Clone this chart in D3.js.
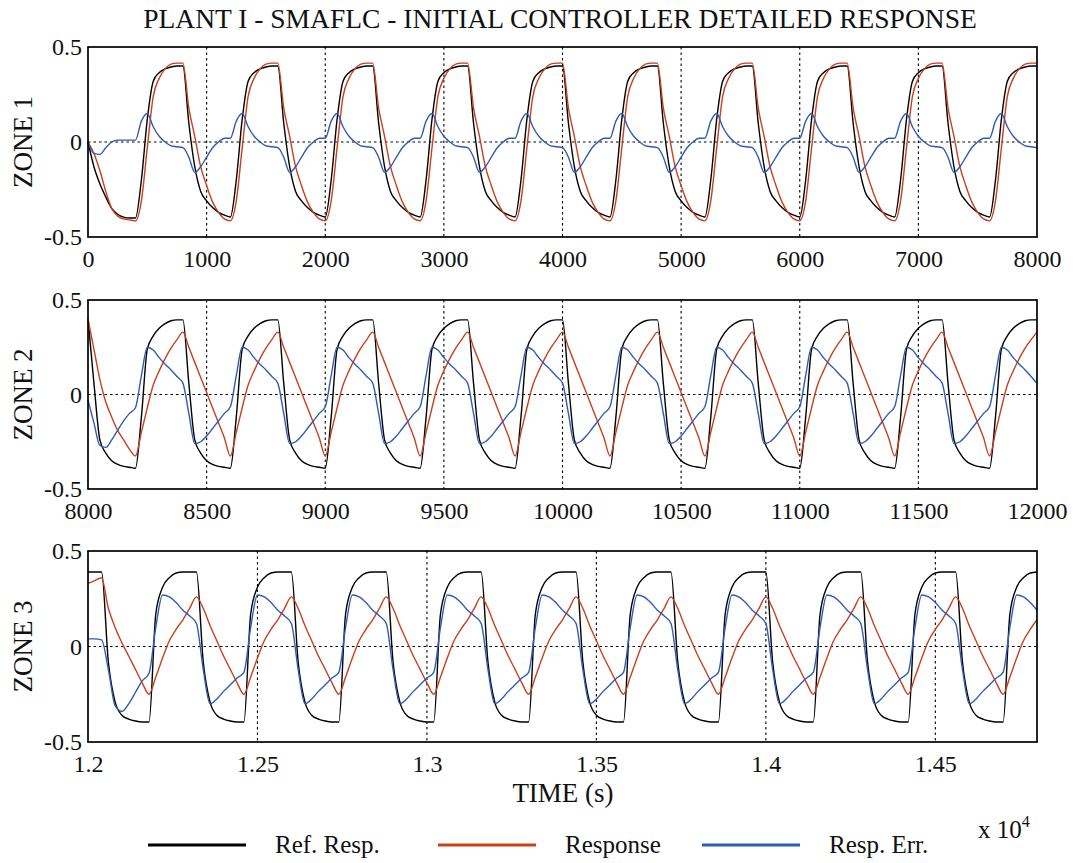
<!DOCTYPE html>
<html>
<head>
<meta charset="utf-8">
<script src="https://cdn.jsdelivr.net/npm/d3@7"></script>
<style>
  body { margin: 0; background: #fff; }
  svg { display: block; }
  svg text { font-family: "Liberation Serif", "Times New Roman", serif; }
</style>
</head>
<body>
<svg id="chart" width="1083" height="863"></svg>
<script>
// zone 1 : t = 0 .. 8000 s, one sample every 50 s
const z1Start = 0, z1End = 8000, z1Step = 50;
const z1Ticks = [0, 1000, 2000, 3000, 4000, 5000, 6000, 7000, 8000];
const z1Ref = [
  0.00,-0.13,-0.22,-0.29,-0.35,-0.38,-0.395,-0.40,-0.40,-0.20,0.12,0.32,0.365,0.385,0.395,0.40,
  0.40,0.10,-0.13,-0.26,-0.31,-0.345,-0.37,-0.385,-0.395,-0.20,0.12,0.32,0.365,0.385,0.395,0.40,
  0.40,0.10,-0.13,-0.26,-0.31,-0.345,-0.37,-0.385,-0.395,-0.20,0.12,0.32,0.365,0.385,0.395,0.40,
  0.40,0.10,-0.13,-0.26,-0.31,-0.345,-0.37,-0.385,-0.395,-0.20,0.12,0.32,0.365,0.385,0.395,0.40,
  0.40,0.10,-0.13,-0.26,-0.31,-0.345,-0.37,-0.385,-0.395,-0.20,0.12,0.32,0.365,0.385,0.395,0.40,
  0.40,0.10,-0.13,-0.26,-0.31,-0.345,-0.37,-0.385,-0.395,-0.20,0.12,0.32,0.365,0.385,0.395,0.40,
  0.40,0.10,-0.13,-0.26,-0.31,-0.345,-0.37,-0.385,-0.395,-0.20,0.12,0.32,0.365,0.385,0.395,0.40,
  0.40,0.10,-0.13,-0.26,-0.31,-0.345,-0.37,-0.385,-0.395,-0.20,0.12,0.32,0.365,0.385,0.395,0.40,
  0.40,0.10,-0.13,-0.26,-0.31,-0.345,-0.37,-0.385,-0.395,-0.20,0.12,0.32,0.365,0.385,0.395,0.40,
  0.40,0.10,-0.13,-0.26,-0.31,-0.345,-0.37,-0.385,-0.395,-0.20,0.12,0.32,0.365,0.385,0.395,0.40,
  0.40
];
const z1Resp = [
  0.00,-0.06,-0.15,-0.26,-0.35,-0.39,-0.405,-0.41,-0.415,-0.31,-0.03,0.24,0.335,0.385,0.41,0.415,
  0.415,0.18,0.03,-0.13,-0.23,-0.315,-0.37,-0.405,-0.415,-0.31,-0.03,0.24,0.335,0.385,0.41,0.415,
  0.415,0.18,0.03,-0.13,-0.23,-0.315,-0.37,-0.405,-0.415,-0.31,-0.03,0.24,0.335,0.385,0.41,0.415,
  0.415,0.18,0.03,-0.13,-0.23,-0.315,-0.37,-0.405,-0.415,-0.31,-0.03,0.24,0.335,0.385,0.41,0.415,
  0.415,0.18,0.03,-0.13,-0.23,-0.315,-0.37,-0.405,-0.415,-0.31,-0.03,0.24,0.335,0.385,0.41,0.415,
  0.415,0.18,0.03,-0.13,-0.23,-0.315,-0.37,-0.405,-0.415,-0.31,-0.03,0.24,0.335,0.385,0.41,0.415,
  0.415,0.18,0.03,-0.13,-0.23,-0.315,-0.37,-0.405,-0.415,-0.31,-0.03,0.24,0.335,0.385,0.41,0.415,
  0.415,0.18,0.03,-0.13,-0.23,-0.315,-0.37,-0.405,-0.415,-0.31,-0.03,0.24,0.335,0.385,0.41,0.415,
  0.415,0.18,0.03,-0.13,-0.23,-0.315,-0.37,-0.405,-0.415,-0.31,-0.03,0.24,0.335,0.385,0.41,0.415,
  0.415,0.18,0.03,-0.13,-0.23,-0.315,-0.37,-0.405,-0.415,-0.31,-0.03,0.24,0.335,0.385,0.41,0.415,
  0.415
];
const z1Err = [
  0.00,-0.06,-0.065,-0.03,0.00,0.01,0.01,0.01,0.01,0.11,0.15,0.08,0.03,0.00,-0.02,-0.025,
  -0.03,-0.08,-0.16,-0.13,-0.08,-0.03,0.00,0.02,0.02,0.11,0.15,0.08,0.03,0.00,-0.02,-0.025,
  -0.03,-0.08,-0.16,-0.13,-0.08,-0.03,0.00,0.02,0.02,0.11,0.15,0.08,0.03,0.00,-0.02,-0.025,
  -0.03,-0.08,-0.16,-0.13,-0.08,-0.03,0.00,0.02,0.02,0.11,0.15,0.08,0.03,0.00,-0.02,-0.025,
  -0.03,-0.08,-0.16,-0.13,-0.08,-0.03,0.00,0.02,0.02,0.11,0.15,0.08,0.03,0.00,-0.02,-0.025,
  -0.03,-0.08,-0.16,-0.13,-0.08,-0.03,0.00,0.02,0.02,0.11,0.15,0.08,0.03,0.00,-0.02,-0.025,
  -0.03,-0.08,-0.16,-0.13,-0.08,-0.03,0.00,0.02,0.02,0.11,0.15,0.08,0.03,0.00,-0.02,-0.025,
  -0.03,-0.08,-0.16,-0.13,-0.08,-0.03,0.00,0.02,0.02,0.11,0.15,0.08,0.03,0.00,-0.02,-0.025,
  -0.03,-0.08,-0.16,-0.13,-0.08,-0.03,0.00,0.02,0.02,0.11,0.15,0.08,0.03,0.00,-0.02,-0.025,
  -0.03,-0.08,-0.16,-0.13,-0.08,-0.03,0.00,0.02,0.02,0.11,0.15,0.08,0.03,0.00,-0.02,-0.025,
  -0.03
];

// zone 2 : t = 8000 .. 12000 s, one sample every 25 s
const z2Start = 8000, z2End = 12000, z2Step = 25;
const z2Ticks = [8000, 8500, 9000, 9500, 10000, 10500, 11000, 11500, 12000];
const z2Ref = [
  0.40,0.06,-0.24,-0.31,-0.35,-0.37,-0.38,-0.385,-0.39,-0.12,0.24,0.31,0.35,0.375,0.39,0.395,
  0.395,0.06,-0.24,-0.31,-0.35,-0.37,-0.38,-0.385,-0.39,-0.12,0.24,0.31,0.35,0.375,0.39,0.395,
  0.395,0.06,-0.24,-0.31,-0.35,-0.37,-0.38,-0.385,-0.39,-0.12,0.24,0.31,0.35,0.375,0.39,0.395,
  0.395,0.06,-0.24,-0.31,-0.35,-0.37,-0.38,-0.385,-0.39,-0.12,0.24,0.31,0.35,0.375,0.39,0.395,
  0.395,0.06,-0.24,-0.31,-0.35,-0.37,-0.38,-0.385,-0.39,-0.12,0.24,0.31,0.35,0.375,0.39,0.395,
  0.395,0.06,-0.24,-0.31,-0.35,-0.37,-0.38,-0.385,-0.39,-0.12,0.24,0.31,0.35,0.375,0.39,0.395,
  0.395,0.06,-0.24,-0.31,-0.35,-0.37,-0.38,-0.385,-0.39,-0.12,0.24,0.31,0.35,0.375,0.39,0.395,
  0.395,0.06,-0.24,-0.31,-0.35,-0.37,-0.38,-0.385,-0.39,-0.12,0.24,0.31,0.35,0.375,0.39,0.395,
  0.395,0.06,-0.24,-0.31,-0.35,-0.37,-0.38,-0.385,-0.39,-0.12,0.24,0.31,0.35,0.375,0.39,0.395,
  0.395,0.06,-0.24,-0.31,-0.35,-0.37,-0.38,-0.385,-0.39,-0.12,0.24,0.31,0.35,0.375,0.39,0.395,
  0.395
];
const z2Resp = [
  0.40,0.24,0.08,-0.04,-0.12,-0.19,-0.24,-0.29,-0.325,-0.20,-0.07,0.05,0.125,0.19,0.245,0.29,
  0.33,0.25,0.17,0.09,0.01,-0.07,-0.15,-0.23,-0.325,-0.20,-0.07,0.05,0.125,0.19,0.245,0.29,
  0.33,0.25,0.17,0.09,0.01,-0.07,-0.15,-0.23,-0.325,-0.20,-0.07,0.05,0.125,0.19,0.245,0.29,
  0.33,0.25,0.17,0.09,0.01,-0.07,-0.15,-0.23,-0.325,-0.20,-0.07,0.05,0.125,0.19,0.245,0.29,
  0.33,0.25,0.17,0.09,0.01,-0.07,-0.15,-0.23,-0.325,-0.20,-0.07,0.05,0.125,0.19,0.245,0.29,
  0.33,0.25,0.17,0.09,0.01,-0.07,-0.15,-0.23,-0.325,-0.20,-0.07,0.05,0.125,0.19,0.245,0.29,
  0.33,0.25,0.17,0.09,0.01,-0.07,-0.15,-0.23,-0.325,-0.20,-0.07,0.05,0.125,0.19,0.245,0.29,
  0.33,0.25,0.17,0.09,0.01,-0.07,-0.15,-0.23,-0.325,-0.20,-0.07,0.05,0.125,0.19,0.245,0.29,
  0.33,0.25,0.17,0.09,0.01,-0.07,-0.15,-0.23,-0.325,-0.20,-0.07,0.05,0.125,0.19,0.245,0.29,
  0.33,0.25,0.17,0.09,0.01,-0.07,-0.15,-0.23,-0.325,-0.20,-0.07,0.05,0.125,0.19,0.245,0.29,
  0.33
];
const z2Err = [
  -0.03,-0.15,-0.27,-0.28,-0.24,-0.19,-0.14,-0.10,-0.07,0.10,0.25,0.235,0.195,0.16,0.13,0.095,
  0.06,-0.10,-0.26,-0.25,-0.22,-0.18,-0.14,-0.10,-0.065,0.10,0.25,0.235,0.195,0.16,0.13,0.095,
  0.06,-0.10,-0.26,-0.25,-0.22,-0.18,-0.14,-0.10,-0.065,0.10,0.25,0.235,0.195,0.16,0.13,0.095,
  0.06,-0.10,-0.26,-0.25,-0.22,-0.18,-0.14,-0.10,-0.065,0.10,0.25,0.235,0.195,0.16,0.13,0.095,
  0.06,-0.10,-0.26,-0.25,-0.22,-0.18,-0.14,-0.10,-0.065,0.10,0.25,0.235,0.195,0.16,0.13,0.095,
  0.06,-0.10,-0.26,-0.25,-0.22,-0.18,-0.14,-0.10,-0.065,0.10,0.25,0.235,0.195,0.16,0.13,0.095,
  0.06,-0.10,-0.26,-0.25,-0.22,-0.18,-0.14,-0.10,-0.065,0.10,0.25,0.235,0.195,0.16,0.13,0.095,
  0.06,-0.10,-0.26,-0.25,-0.22,-0.18,-0.14,-0.10,-0.065,0.10,0.25,0.235,0.195,0.16,0.13,0.095,
  0.06,-0.10,-0.26,-0.25,-0.22,-0.18,-0.14,-0.10,-0.065,0.10,0.25,0.235,0.195,0.16,0.13,0.095,
  0.06,-0.10,-0.26,-0.25,-0.22,-0.18,-0.14,-0.10,-0.065,0.10,0.25,0.235,0.195,0.16,0.13,0.095,
  0.06
];

// zone 3 : t = 12000 .. 14800 s, one sample every 20 s
const z3Start = 12000, z3End = 14800, z3Step = 20;
const z3Ticks = [12000, 12500, 13000, 13500, 14000, 14500];
const z3Ref = [
  0.39,0.39,0.39,-0.08,-0.29,-0.36,-0.38,-0.39,-0.395,-0.395,0.17,0.31,0.36,0.385,
  0.39,0.39,0.39,-0.08,-0.29,-0.36,-0.38,-0.39,-0.395,-0.395,0.17,0.31,0.36,0.385,
  0.39,0.39,0.39,-0.08,-0.29,-0.36,-0.38,-0.39,-0.395,-0.395,0.17,0.31,0.36,0.385,
  0.39,0.39,0.39,-0.08,-0.29,-0.36,-0.38,-0.39,-0.395,-0.395,0.17,0.31,0.36,0.385,
  0.39,0.39,0.39,-0.08,-0.29,-0.36,-0.38,-0.39,-0.395,-0.395,0.17,0.31,0.36,0.385,
  0.39,0.39,0.39,-0.08,-0.29,-0.36,-0.38,-0.39,-0.395,-0.395,0.17,0.31,0.36,0.385,
  0.39,0.39,0.39,-0.08,-0.29,-0.36,-0.38,-0.39,-0.395,-0.395,0.17,0.31,0.36,0.385,
  0.39,0.39,0.39,-0.08,-0.29,-0.36,-0.38,-0.39,-0.395,-0.395,0.17,0.31,0.36,0.385,
  0.39,0.39,0.39,-0.08,-0.29,-0.36,-0.38,-0.39,-0.395,-0.395,0.17,0.31,0.36,0.385,
  0.39,0.39,0.39,-0.08,-0.29,-0.36,-0.38,-0.39,-0.395,-0.395,0.17,0.31,0.36,0.385,
  0.39
];
const z3Resp = [
  0.33,0.345,0.36,0.20,0.10,0.02,-0.05,-0.12,-0.19,-0.25,-0.16,-0.06,0.03,0.09,
  0.14,0.20,0.26,0.20,0.11,0.03,-0.05,-0.12,-0.19,-0.25,-0.16,-0.06,0.03,0.09,
  0.14,0.20,0.26,0.20,0.11,0.03,-0.05,-0.12,-0.19,-0.25,-0.16,-0.06,0.03,0.09,
  0.14,0.20,0.26,0.20,0.11,0.03,-0.05,-0.12,-0.19,-0.25,-0.16,-0.06,0.03,0.09,
  0.14,0.20,0.26,0.20,0.11,0.03,-0.05,-0.12,-0.19,-0.25,-0.16,-0.06,0.03,0.09,
  0.14,0.20,0.26,0.20,0.11,0.03,-0.05,-0.12,-0.19,-0.25,-0.16,-0.06,0.03,0.09,
  0.14,0.20,0.26,0.20,0.11,0.03,-0.05,-0.12,-0.19,-0.25,-0.16,-0.06,0.03,0.09,
  0.14,0.20,0.26,0.20,0.11,0.03,-0.05,-0.12,-0.19,-0.25,-0.16,-0.06,0.03,0.09,
  0.14,0.20,0.26,0.20,0.11,0.03,-0.05,-0.12,-0.19,-0.25,-0.16,-0.06,0.03,0.09,
  0.14,0.20,0.26,0.20,0.11,0.03,-0.05,-0.12,-0.19,-0.25,-0.16,-0.06,0.03,0.09,
  0.14
];
const z3Err = [
  0.04,0.04,0.035,-0.12,-0.31,-0.34,-0.30,-0.24,-0.18,-0.14,0.10,0.27,0.26,0.23,
  0.19,0.16,0.12,-0.12,-0.30,-0.275,-0.235,-0.20,-0.165,-0.135,0.10,0.27,0.26,0.23,
  0.19,0.16,0.12,-0.12,-0.30,-0.275,-0.235,-0.20,-0.165,-0.135,0.10,0.27,0.26,0.23,
  0.19,0.16,0.12,-0.12,-0.30,-0.275,-0.235,-0.20,-0.165,-0.135,0.10,0.27,0.26,0.23,
  0.19,0.16,0.12,-0.12,-0.30,-0.275,-0.235,-0.20,-0.165,-0.135,0.10,0.27,0.26,0.23,
  0.19,0.16,0.12,-0.12,-0.30,-0.275,-0.235,-0.20,-0.165,-0.135,0.10,0.27,0.26,0.23,
  0.19,0.16,0.12,-0.12,-0.30,-0.275,-0.235,-0.20,-0.165,-0.135,0.10,0.27,0.26,0.23,
  0.19,0.16,0.12,-0.12,-0.30,-0.275,-0.235,-0.20,-0.165,-0.135,0.10,0.27,0.26,0.23,
  0.19,0.16,0.12,-0.12,-0.30,-0.275,-0.235,-0.20,-0.165,-0.135,0.10,0.27,0.26,0.23,
  0.19,0.16,0.12,-0.12,-0.30,-0.275,-0.235,-0.20,-0.165,-0.135,0.10,0.27,0.26,0.23,
  0.19
];

const yTicks = [-0.5, 0, 0.5];
const seriesNames = ["Ref. Resp.", "Response", "Resp. Err."];
const seriesColors = ["#000000", "#c8401e", "#2f5cb3"];

const svg = d3.select("#chart");
svg.append("rect").attr("width", 1083).attr("height", 863).attr("fill", "#fff");

const left = 88, right = 1037;
const serif = "'Liberation Serif', 'Times New Roman', serif";

const zones = [
  {name: "ZONE 1", start: z1Start, end: z1End, step: z1Step, ticks: z1Ticks, fmt: d => String(d),
   series: [z1Ref, z1Resp, z1Err], top: 47, bottom: 237},
  {name: "ZONE 2", start: z2Start, end: z2End, step: z2Step, ticks: z2Ticks, fmt: d => String(d),
   series: [z2Ref, z2Resp, z2Err], top: 300, bottom: 489},
  {name: "ZONE 3", start: z3Start, end: z3End, step: z3Step, ticks: z3Ticks, fmt: d => String(d / 1e4),
   series: [z3Ref, z3Resp, z3Err], top: 551, bottom: 742}
];

zones.forEach(z => {
  const x = d3.scaleLinear().domain([z.start, z.end]).range([left, right]);
  const y = d3.scaleLinear().domain([-0.5, 0.5]).range([z.bottom, z.top]);
  const g = svg.append("g");

  // dotted grid at the inner ticks and at zero
  g.selectAll("line.vgrid")
    .data(z.ticks.filter(t => t > z.start && t < z.end))
    .join("line").attr("class", "vgrid")
    .attr("x1", d => x(d)).attr("x2", d => x(d))
    .attr("y1", z.top).attr("y2", z.bottom)
    .attr("stroke", "#000").attr("stroke-width", 1.1).attr("stroke-dasharray", "2.5,3");
  g.append("line")
    .attr("x1", left).attr("x2", right).attr("y1", y(0)).attr("y2", y(0))
    .attr("stroke", "#000").attr("stroke-width", 1.1).attr("stroke-dasharray", "2.5,3");

  // the three curves
  const line = d3.line()
    .x((d, i) => x(z.start + i * z.step))
    .y(d => y(d))
    .curve(d3.curveMonotoneX);
  z.series.forEach((s, k) => {
    g.append("path").datum(s)
      .attr("fill", "none")
      .attr("stroke", seriesColors[k])
      .attr("stroke-width", 1.4)
      .attr("stroke-linejoin", "round")
      .attr("d", line);
  });

  // frame
  g.append("rect")
    .attr("x", left).attr("y", z.top)
    .attr("width", right - left).attr("height", z.bottom - z.top)
    .attr("fill", "none").attr("stroke", "#000").attr("stroke-width", 1.7);

  // x axis
  const xa = d3.axisBottom(x).tickValues(z.ticks).tickFormat(z.fmt).tickSize(0).tickPadding(0);
  const xg = g.append("g").attr("transform", `translate(0,${z.bottom})`).call(xa);
  xg.attr("font-family", serif).attr("font-size", 24);
  xg.select(".domain").remove();
  xg.selectAll("text")
    .attr("y", 30).attr("dy", 0)
    .attr("font-family", serif)
    .style("font-family", serif).style("font-size", "24px").attr("fill", "#111");

  // y axis
  const ya = d3.axisLeft(y).tickValues(yTicks).tickFormat(d => d === 0 ? "0" : String(d)).tickSize(0).tickPadding(0);
  const yg = g.append("g").attr("transform", `translate(82,0)`).call(ya);
  yg.attr("font-family", serif).attr("font-size", 24);
  yg.select(".domain").remove();
  yg.selectAll("text")
    .attr("x", 0).attr("dy", "0.33em")
    .attr("font-family", serif)
    .style("font-family", serif).style("font-size", "24px").attr("fill", "#111");

  // zone label
  svg.append("text")
    .attr("transform", `translate(32,${(z.top + z.bottom) / 2}) rotate(-90)`)
    .attr("text-anchor", "middle")
    .style("font-size", "27px").attr("fill", "#111")
    .text(z.name);
});

// title
svg.append("text")
  .attr("x", 560).attr("y", 28)
  .attr("text-anchor", "middle")
  .style("font-size", "27.5px").attr("fill", "#111")
  .text("PLANT I - SMAFLC - INITIAL CONTROLLER DETAILED RESPONSE");

// x label and exponent
svg.append("text")
  .attr("x", 563).attr("y", 802)
  .attr("text-anchor", "middle")
  .style("font-size", "27px").attr("fill", "#111")
  .text("TIME (s)");
const ex = svg.append("text")
  .attr("x", 978).attr("y", 838)
  .style("font-size", "25px").attr("fill", "#111");
ex.append("tspan").text("x 10");
ex.append("tspan").attr("dy", -11).style("font-size", "16px").text("4");

// legend
const legX = [148, 438, 702];
const lg = svg.append("g");
seriesNames.forEach((name, k) => {
  lg.append("line")
    .attr("x1", legX[k]).attr("x2", legX[k] + 98)
    .attr("y1", 845).attr("y2", 845)
    .attr("stroke", seriesColors[k]).attr("stroke-width", 3);
  lg.append("text")
    .attr("x", legX[k] + 127).attr("y", 853)
    .style("font-size", "25px").attr("fill", "#111")
    .text(name);
});
</script>
</body>
</html>
